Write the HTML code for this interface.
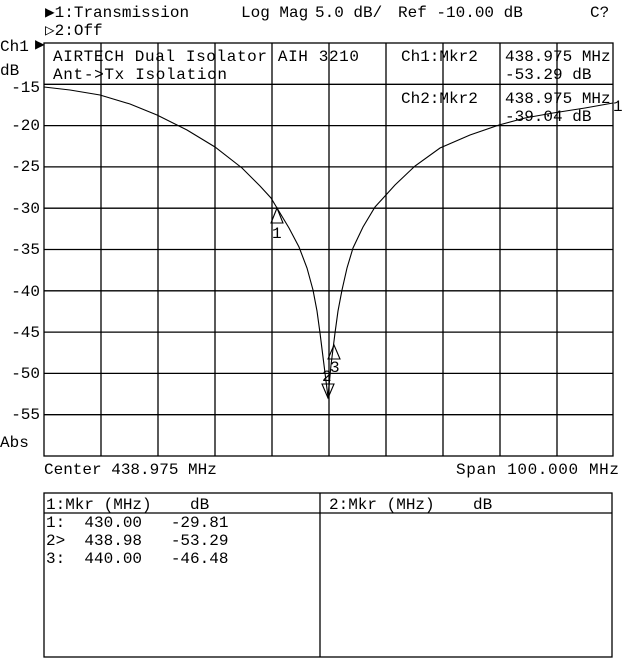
<!DOCTYPE html>
<html><head><style>
html,body{margin:0;padding:0;background:#fff;}
svg text{font-family:"Liberation Mono","DejaVu Sans Mono",monospace;font-size:16px;fill:#000;}
</style></head><body>
<svg width="640" height="659" viewBox="0 0 640 659" xmlns="http://www.w3.org/2000/svg">
<g stroke="#000" stroke-width="1.3" fill="none">
<rect x="44" y="43" width="569" height="413"/>
<line x1="101" y1="43" x2="101" y2="456"/><line x1="158" y1="43" x2="158" y2="456"/>
<line x1="215" y1="43" x2="215" y2="456"/><line x1="272" y1="43" x2="272" y2="456"/>
<line x1="329" y1="43" x2="329" y2="456"/><line x1="386" y1="43" x2="386" y2="456"/>
<line x1="443" y1="43" x2="443" y2="456"/><line x1="500" y1="43" x2="500" y2="456"/>
<line x1="557" y1="43" x2="557" y2="456"/>
<line x1="44" y1="84.3" x2="613" y2="84.3"/><line x1="44" y1="125.6" x2="613" y2="125.6"/>
<line x1="44" y1="166.9" x2="613" y2="166.9"/><line x1="44" y1="208.2" x2="613" y2="208.2"/>
<line x1="44" y1="249.5" x2="613" y2="249.5"/><line x1="44" y1="290.8" x2="613" y2="290.8"/>
<line x1="44" y1="332.1" x2="613" y2="332.1"/><line x1="44" y1="373.4" x2="613" y2="373.4"/>
<line x1="44" y1="414.7" x2="613" y2="414.7"/>
<rect x="44" y="493" width="568" height="164"/>
<line x1="44" y1="513" x2="612" y2="513"/>
<line x1="320" y1="493" x2="320" y2="657"/>
</g>
<polyline fill="none" stroke="#000" stroke-width="1.1" points="44,87 70,90 100,95 130,104 157,115 187,130 215,147 242,168 260,186 271,198 277,208 289,228 299,247 307,268 313,290 317,311 320,333 324,365 328,397 331,365 335,333 338,311 342,290 347,268 353,248 363,227 375,207 395,185 415,166 440,148 470,135 499,125 525,118 553,113 585,108 613,103"/>
<g stroke="#000" stroke-width="1.1" fill="none">
<path d="M277,208 L271,223 L283,223 Z"/>
<path d="M328,398 L322,384 L334,384 Z"/>
<path d="M334,345 L328,359 L340,359 Z"/>
</g>
<text x="272" y="238" font-size="13">1</text>
<text x="330" y="372" font-size="12">3</text>
<text x="322" y="381" font-size="12">2</text>
<text x="613" y="111" font-size="13">1</text>

<text x="45" y="17">▶1:Transmission</text>
<text x="241" y="17">Log Mag</text>
<text x="315" y="17">5.0 dB/</text>
<text x="398" y="17">Ref -10.00 dB</text>
<text x="590" y="17">C?</text>
<text x="45" y="35">▷2:Off</text>
<text x="0" y="51">Ch1</text><text x="35" y="49" font-size="12">▶</text>
<text x="0" y="75">dB</text>
<text x="53" y="61" textLength="306">AIRTECH Dual Isolator AIH 3210</text>
<text x="53" y="79" textLength="174">Ant->Tx Isolation</text>
<text x="401" y="61">Ch1:Mkr2</text>
<text x="505" y="61">438.975 MHz</text>
<text x="505" y="79">-53.29 dB</text>
<text x="401" y="103">Ch2:Mkr2</text>
<text x="505" y="103">438.975 MHz</text>
<text x="505" y="121">-39.04 dB</text>
<g text-anchor="end">
<text x="40" y="92">-15</text><text x="40" y="130">-20</text><text x="40" y="171">-25</text>
<text x="40" y="213">-30</text><text x="40" y="254">-35</text><text x="40" y="296">-40</text>
<text x="40" y="337">-45</text><text x="40" y="378">-50</text><text x="40" y="419">-55</text>
</g>
<text x="0" y="447">Abs</text>
<text x="44" y="474">Center 438.975 MHz</text>
<text x="456" y="474" textLength="163">Span 100.000 MHz</text>
<text x="46" y="509" xml:space="preserve">1:Mkr (MHz)    dB</text>
<text x="329" y="509" xml:space="preserve">2:Mkr (MHz)    dB</text>
<text x="46" y="527" xml:space="preserve">1:  430.00   -29.81</text>
<text x="46" y="545" xml:space="preserve">2>  438.98   -53.29</text>
<text x="46" y="563" xml:space="preserve">3:  440.00   -46.48</text>
</svg>
</body></html>
